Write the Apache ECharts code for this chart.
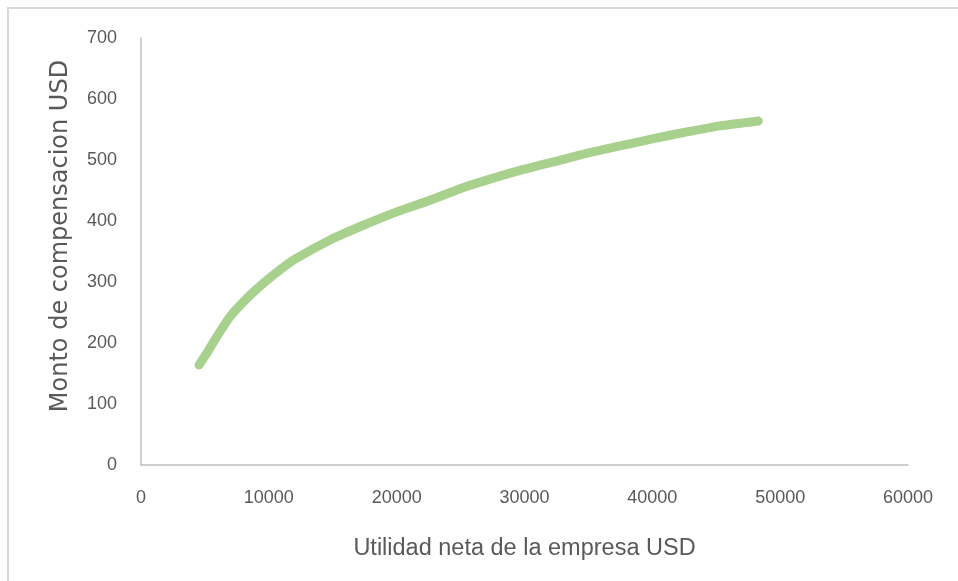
<!DOCTYPE html>
<html>
<head>
<meta charset="utf-8">
<script src="https://cdn.jsdelivr.net/npm/echarts@6/dist/echarts.min.js"></script>
<style>
html,body{margin:0;padding:0;background:#fff;}
#chart{width:958px;height:581px;}
</style>
</head>
<body>
<div id="chart"></div>
<script>
// Values
const utilidad = [4540, 5140, 5920, 6960, 8270, 9570, 10870, 12180, 14790, 17390, 20000, 22610, 24960, 27040, 29650, 32250, 34870, 37470, 40080, 42690, 45300, 48290];
const compensacion = [164, 183, 210, 243, 273, 298, 320, 339, 369, 393, 415, 434, 453, 467, 483, 497, 511, 523, 535, 546, 556, 564];
const xTitle = 'Utilidad neta de la empresa USD';
const yTitle = 'Monto de compensacion USD';

const points = utilidad.map((x, i) => [x, compensacion[i]]);

const chart = echarts.init(document.getElementById('chart'), null, {renderer: 'canvas'});
const tickFont = {color: '#595959', fontSize: 18, fontFamily: 'Liberation Sans'};
chart.setOption({
  animation: false,
  backgroundColor: '#fff',
  grid: {left: 141, right: 50, top: 38, bottom: 116, containLabel: false},
  xAxis: {
    type: 'value', min: 0, max: 60000, interval: 10000,
    axisLine: {show: true, lineStyle: {color: '#bfbfbf', width: 1.5}},
    axisTick: {show: false},
    splitLine: {show: false},
    axisLabel: Object.assign({margin: 24, formatter: v => String(v)}, tickFont),
    name: xTitle, nameLocation: 'middle', nameGap: 72,
    nameTextStyle: {color: '#595959', fontSize: 23.5, fontFamily: 'Liberation Sans'}
  },
  yAxis: {
    type: 'value', min: 0, max: 700, interval: 100,
    axisLine: {show: true, lineStyle: {color: '#bfbfbf', width: 1.5}},
    axisTick: {show: false},
    splitLine: {show: false},
    axisLabel: Object.assign({margin: 24, formatter: v => String(v)}, tickFont)
  },
  graphic: [
    {type: 'rect', silent: true, shape: {x: 8, y: 8, width: 1200, height: 1200},
     style: {fill: 'none', stroke: '#d9d9d9', lineWidth: 2}},
    {type: 'text', silent: true, x: 61, y: 236, rotation: Math.PI / 2,
     style: {text: yTitle, fill: '#595959', fontSize: 24, fontFamily: 'DejaVu Sans',
             align: 'center', verticalAlign: 'middle'}}
  ],
  series: [{
    type: 'line',
    data: points,
    smooth: 0.2,
    showSymbol: false,
    lineStyle: {color: '#a9d18e', width: 9, cap: 'round', join: 'round'}
  }]
});
</script>
</body>
</html>
